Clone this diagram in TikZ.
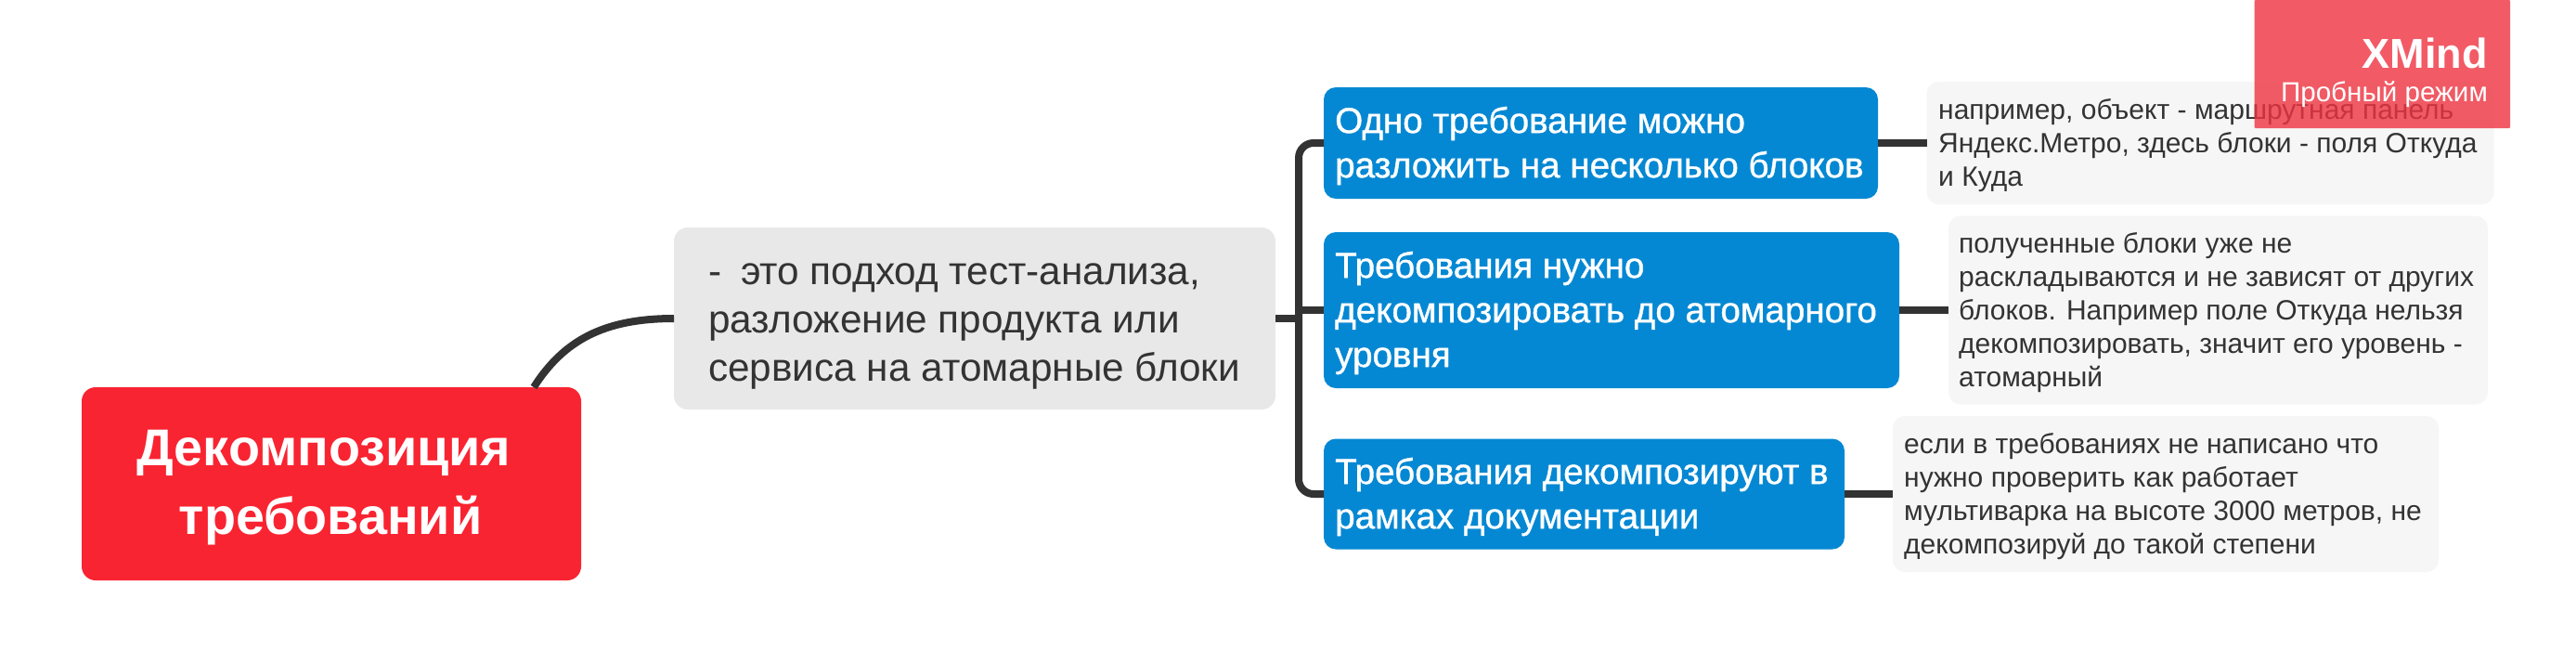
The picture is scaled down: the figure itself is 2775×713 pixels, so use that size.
\documentclass[tikz,border=0pt]{standalone}
\usepackage{fontspec}
\setmainfont{Liberation Sans}
\newfontfamily\semifont[FakeBold=1]{Liberation Sans}
\definecolor{linec}{HTML}{333333}
\definecolor{rootc}{HTML}{F92431}
\definecolor{greyc}{HTML}{E8E8E8}
\definecolor{bluec}{HTML}{0588D3}
\definecolor{notec}{HTML}{F6F6F6}
\definecolor{markc}{HTML}{EF3340}
\tikzset{
 x=1pt,y=-1pt,
 box/.style={inner sep=0pt,outer sep=0pt,anchor=center},
 rootbox/.style={box,fill=rootc,rounded corners=15pt},
 greybox/.style={box,fill=greyc,rounded corners=15pt},
 bluebox/.style={box,fill=bluec,rounded corners=13pt},
 notebox/.style={box,fill=notec,rounded corners=13pt},
 roottext/.style={inner sep=0pt,text=white,align=center,font=\fontsize{55.7}{74}\selectfont\bfseries},
 greytext/.style={inner sep=0pt,anchor=west,text=linec,align=left,font=\fontsize{42.3}{52}\selectfont},
 bluetext/.style={inner sep=0pt,anchor=west,text=white,align=left,font=\fontsize{38.6}{48}\selectfont\semifont},
 notetext/.style={inner sep=0pt,anchor=west,text=linec,align=left,font=\fontsize{30}{36}\selectfont},
 conn/.style={draw=linec,line width=8pt},
 markbox/.style={box,fill=markc,fill opacity=0.8,rounded corners=1pt},
}
\begin{document}
\begin{tikzpicture}
\useasboundingbox (0,0) rectangle (2775,713);
\fill[white] (0,0) rectangle (2775,713);
\node[rootbox,minimum width=538pt,minimum height=208pt] (root) at (357,521) {};
\node[greybox,minimum width=648pt,minimum height=196pt] (sub) at (1050,343) {};
\node[bluebox,minimum width=597pt,minimum height=120pt] (b1) at (1724.5,154) {};
\node[bluebox,minimum width=620pt,minimum height=168pt] (b2) at (1736,334) {};
\node[bluebox,minimum width=561pt,minimum height=119pt] (b3) at (1706.5,532) {};
\node[notebox,minimum width=611pt,minimum height=132pt] (n1) at (2381,154) {};
\node[notebox,minimum width=581pt,minimum height=203pt] (n2) at (2389.5,334) {};
\node[notebox,minimum width=588pt,minimum height=168pt] (n3) at (2333,532) {};
\coordinate (rootout) at (575,417);
\coordinate (bus) at (1399,343);
\draw[conn] (rootout) .. controls (607,367) and (650,343) .. (sub.west);
\draw[conn] (sub.east) -- (bus);
\draw[conn,rounded corners=16pt] (b1.west) -- (bus |- b1.west) -- (bus |- b3.west) -- (b3.west);
\draw[conn] (bus |- b2.west) -- (b2.west);
\draw[conn] (b1.east) -- (n1.west);
\draw[conn] (b2.east) -- (n2.west);
\draw[conn] (b3.east) -- (n3.west);
\node[roottext] (roott) at (349,525) {Декомпозиция\\\hspace*{14pt}требований};
\node[greytext] (subt) at (763,351) {-\hspace{9pt} это подход тест-анализа,\\разложение продукта или\\сервиса на атомарные блоки};
\node[bluetext] (b1t) at (1438,157) {Одно требование можно\\разложить на несколько блоков};
\node[bluetext] (b2t) at (1438,337) {Требования нужно\\декомпозировать до атомарного\\уровня};
\node[bluetext] (b3t) at (1438,535) {Требования декомпозируют в\\рамках документации};
\node[notetext] (n1t) at (2088,157) {например, объект - маршрутная панель\\Яндекс.Метро, здесь блоки - поля Откуда\\и Куда};
\node[notetext] (n2t) at (2110,337) {полученные блоки уже не\\раскладываются и не зависят от других\\блоков. Например поле Откуда нельзя\\декомпозировать, значит его уровень -\\атомарный};
\node[notetext] (n3t) at (2051,535) {если в требованиях не написано что\\нужно проверить как работает\\мультиварка на высоте 3000 метров, не\\декомпозируй до такой степени};
\node[markbox,minimum width=275.5pt,minimum height=138pt] (mark) at (2566.25,69) {};
\node[inner sep=0pt,anchor=base east,text=white,font=\fontsize{45}{45}\selectfont\bfseries] (mx) at (2680,73) {XMind};
\node[inner sep=0pt,anchor=base east,text=white,font=\fontsize{29.6}{30}\selectfont] (mp) at (2680,109) {Пробный режим};
\end{tikzpicture}
\end{document}
